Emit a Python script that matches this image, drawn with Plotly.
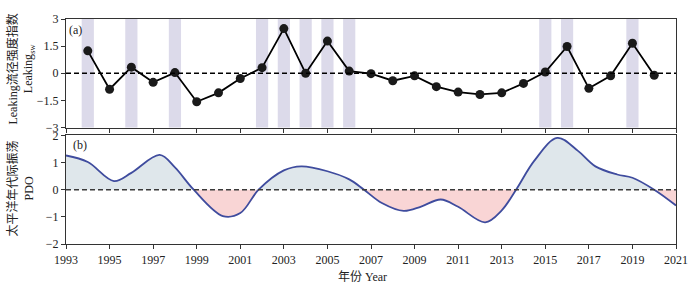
import plotly.graph_objects as go

# ---- Data ----
leak_years = list(range(1994, 2021))
leak_values = [1.24, -0.88, 0.34, -0.50, 0.04, -1.57, -1.08, -0.29, 0.31, 2.47,
               0.00, 1.78, 0.12, -0.02, -0.41, -0.14, -0.74, -1.04, -1.17, -1.08,
               -0.56, 0.07, 1.48, -0.83, -0.14, 1.66, -0.11]
band_years = [1994, 1996, 1998, 2002, 2003, 2004, 2005, 2006, 2015, 2016, 2019]

pdo_years = [1993, 1994, 1995.2, 1996, 1997.3, 1998, 1998.86, 2000.2, 2001, 2001.84,
             2003, 2003.8, 2005, 2006, 2006.68, 2007.5, 2008.5, 2009.3, 2010.2, 2011,
             2012.24, 2013, 2013.66, 2014.5, 2015.55, 2016.5, 2017.3, 2018.3, 2019,
             2020.0, 2021]
pdo_values = [1.26, 1.02, 0.32, 0.62, 1.28, 0.82, 0.0, -0.97, -0.86, 0.0,
              0.71, 0.86, 0.68, 0.38, 0.0, -0.49, -0.78, -0.62, -0.36, -0.63,
              -1.20, -0.76, 0.0, 1.07, 1.91, 1.43, 0.86, 0.56, 0.44,
              0.0, -0.58]

year_ticks = list(range(1993, 2022, 2))
ya_ticks = [-3, -1.5, 0, 1.5, 3]
ya_labels = ["−3", "−1.5", "0", "1.5", "3"]
yb_ticks = [-2, -1, 0, 1, 2]
yb_labels = ["−2", "−1", "0", "1", "2"]

SERIF = "Liberation Serif, Times New Roman, serif"
CJK = "Liberation Serif, Noto Sans CJK SC, serif"

fig = go.Figure()

# Panel (a)
fig.add_trace(go.Scatter(x=leak_years, y=leak_values, mode="lines+markers",
                         line=dict(color="#000000", width=1.8),
                         marker=dict(color="#1a1a1a", size=9),
                         xaxis="x", yaxis="y", showlegend=False))

# Panel (b) fills
pos = [v if v >= 0 else None for v in pdo_values]
neg = [v if v <= 0 else None for v in pdo_values]
fig.add_trace(go.Scatter(x=pdo_years, y=pos, mode="lines", line=dict(width=0, shape="spline"),
                         fill="tozeroy", fillcolor="#dfe7eb", connectgaps=False,
                         xaxis="x2", yaxis="y2", showlegend=False, hoverinfo="skip"))
fig.add_trace(go.Scatter(x=pdo_years, y=neg, mode="lines", line=dict(width=0, shape="spline"),
                         fill="tozeroy", fillcolor="#f9d5d5", connectgaps=False,
                         xaxis="x2", yaxis="y2", showlegend=False, hoverinfo="skip"))
fig.add_trace(go.Scatter(x=pdo_years, y=pdo_values, mode="lines",
                         line=dict(color="#3f4c9e", width=1.8, shape="spline"),
                         xaxis="x2", yaxis="y2", showlegend=False))

shapes = []
for yr in band_years:
    shapes.append(dict(type="rect", xref="x", yref="y domain", x0=yr - 0.28, x1=yr + 0.28,
                       y0=0, y1=1, fillcolor="#dcdaea", line=dict(width=0), layer="below"))
shapes.append(dict(type="line", xref="x domain", yref="y", x0=0, x1=1, y0=0, y1=0,
                   line=dict(color="#000000", width=1.5, dash="5px,3px"), layer="above"))
shapes.append(dict(type="line", xref="x2 domain", yref="y2", x0=0, x1=1, y0=0, y1=0,
                   line=dict(color="#3a3a3a", width=1.4, dash="5px,3px"), layer="above"))

axis_common = dict(showgrid=False, zeroline=False, showline=True, mirror=True,
                   linecolor="#333333", linewidth=1.2, ticks="outside", ticklen=4,
                   tickcolor="#333333", tickfont=dict(family=SERIF, size=12, color="#222222"))

fig.update_layout(
    width=700, height=289,
    margin=dict(l=66, r=22, t=14, b=45),
    paper_bgcolor="white", plot_bgcolor="white",
    shapes=shapes,
    xaxis=dict(domain=[0, 1], range=[1993, 2021], tickvals=year_ticks, showticklabels=False,
               anchor="y", **axis_common),
    yaxis=dict(domain=[0.5174, 1], range=[-3, 3], tickvals=ya_ticks, ticktext=ya_labels,
               anchor="x", **axis_common),
    xaxis2=dict(domain=[0, 1], range=[1993, 2021], tickvals=year_ticks,
                ticktext=[str(t) for t in year_ticks], anchor="y2", **axis_common),
    yaxis2=dict(domain=[0, 0.4826], range=[-2, 2], tickvals=yb_ticks, ticktext=yb_labels,
                anchor="x2", **axis_common),
    annotations=[
        dict(text="(a)", xref="paper", yref="paper", x=0.002, y=(244 - 25) / 230,
             xanchor="left", yanchor="middle", showarrow=False,
             font=dict(family=SERIF, size=12, color="#222222")),
        dict(text="(b)", xref="paper", yref="paper", x=0.009, y=(244 - 143) / 230,
             xanchor="left", yanchor="middle", showarrow=False,
             font=dict(family=SERIF, size=12, color="#222222")),
        dict(text="Leaking流径强度指数<br>Leaking<sub>sw</sub>", xref="paper", yref="paper",
             x=(20.5 - 66) / 612, y=(244 - 65) / 230, xanchor="center", yanchor="middle",
             textangle=-90, showarrow=False,
             font=dict(family=CJK, size=12, color="#222222")),
        dict(text="太平洋年代际振荡<br>PDO", xref="paper", yref="paper",
             x=(20.5 - 66) / 612, y=(244 - 187.5) / 230, xanchor="center", yanchor="middle",
             textangle=-90, showarrow=False,
             font=dict(family=CJK, size=12, color="#222222")),
        dict(text="年份 Year", xref="paper", yref="paper",
             x=(363 - 66) / 612, y=(244 - 278) / 230, xanchor="center", yanchor="middle",
             showarrow=False, font=dict(family=CJK, size=12, color="#222222")),
    ],
)

fig.write_html("out.html", config={"displayModeBar": False},
               post_script="document.body.style.margin='0';document.body.style.overflow='hidden';")
